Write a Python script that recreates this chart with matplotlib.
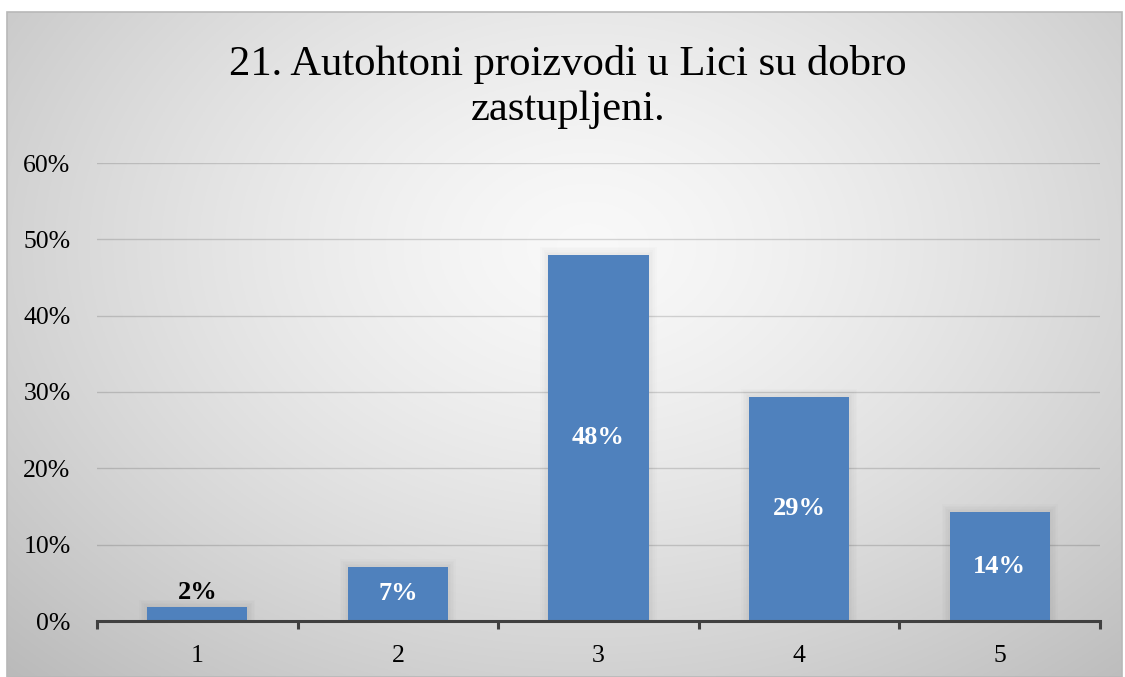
import numpy as np
import matplotlib
matplotlib.use("Agg")
import matplotlib.pyplot as plt
from matplotlib.patches import Rectangle

categories = ["1", "2", "3", "4", "5"]
values = [0.018, 0.071, 0.480, 0.294, 0.143]
labels = ["2%", "7%", "48%", "29%", "14%"]
yticks = [0, 0.1, 0.2, 0.3, 0.4, 0.5, 0.6]
ytick_labels = ["0%", "10%", "20%", "30%", "40%", "50%", "60%"]
title = "21. Autohtoni proizvodi u Lici su dobro\nzastupljeni."

plt.rcParams['font.family'] = ['Liberation Serif', 'DejaVu Serif']

W, H = 1125, 677
fig = plt.figure(figsize=(W / 100, H / 100), dpi=100)
fig.patch.set_facecolor("white")

# background gradient
bg = fig.add_axes([7 / W, 0, (1122 - 7) / W, (677 - 12) / H], zorder=-2)
ny, nx = 300, 500
yy, xx = np.mgrid[0:ny, 0:nx]
cx, cy = nx * 0.52, ny * 0.35
r = np.sqrt(((xx - cx) / (nx * 0.62)) ** 2 + ((yy - cy) / (ny * 0.75)) ** 2)
v = 0.975 - 0.19 * np.clip(r, 0, 1.3) ** 1.4
img = np.dstack([v, v, v])
bg.imshow(img, aspect="auto", extent=[0, 1, 0, 1], origin="upper")
bg.set_xlim(0, 1)
bg.set_ylim(0, 1)
bg.axis("off")
bg.add_patch(Rectangle((0, 0), 1, 1, fill=False, ec="#b8b8b8", lw=1.2,
                       transform=bg.transAxes, clip_on=False))

ax = fig.add_axes([97 / W, 1 - 621 / H, (1100 - 97) / W, (621 - 163) / H])
ax.patch.set_alpha(0)
x = np.arange(len(categories))

# soft shadows
for k in range(5):
    e = 0.008 * (k + 1)
    ax.bar(x, np.array(values) + 0.002 * (k + 1), width=0.5 + 2 * e,
           bottom=0, color="black", alpha=0.012, zorder=1.5, linewidth=0)

bars = ax.bar(x, values, width=0.5, color="#4F81BD", zorder=3, linewidth=0)

for i, (xv, val, lab) in enumerate(zip(x, values, labels)):
    if val < 0.04:
        ax.text(xv, val + 0.004, lab, ha="center", va="bottom", fontsize=19,
                fontweight="bold", color="black", zorder=4)
    else:
        ax.text(xv, val / 2, lab, ha="center", va="center", fontsize=19,
                fontweight="bold", color="white", zorder=4)

ax.set_ylim(0, 0.6)
ax.set_xlim(-0.5, 4.5)
ax.set_yticks(yticks)
ax.set_yticklabels(ytick_labels, fontsize=18.5)
ax.set_xticks(x)
ax.set_xticklabels(categories, fontsize=18.5)
ax.set_xticks(np.arange(-0.5, 5, 1), minor=True)
ax.tick_params(axis="y", length=0, pad=19)
ax.tick_params(axis="x", which="major", length=0, pad=17)
ax.tick_params(axis="x", which="minor", length=6, width=2.2, color="#404040", direction="out")
ax.grid(axis="y", color="black", alpha=0.15, lw=1, zorder=0)
for s in ["top", "right", "left"]:
    ax.spines[s].set_visible(False)
ax.spines["bottom"].set_color("#404040")
ax.spines["bottom"].set_linewidth(2.2)
ax.spines["bottom"].set_zorder(5)

fig.text(568 / W, 1 - 87 / H, title, ha="center", va="center", fontsize=30.7,
         linespacing=1.2, color="black")

fig.savefig("out.png", dpi=100)
